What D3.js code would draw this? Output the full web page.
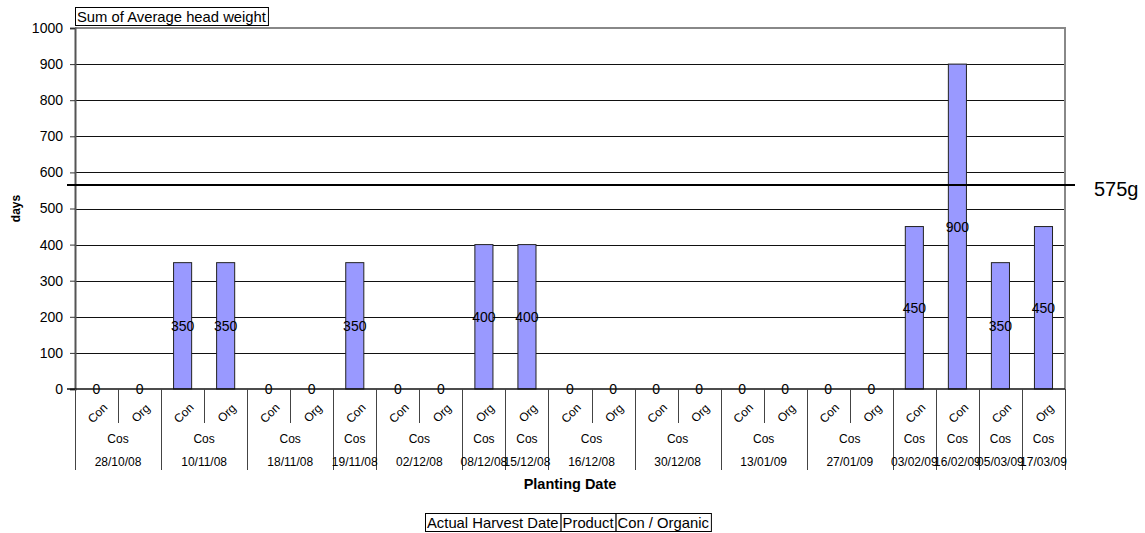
<!DOCTYPE html>
<html>
<head>
<meta charset="utf-8">
<script src="https://cdn.jsdelivr.net/npm/d3@7"></script>
<style>
  body { margin: 0; background: #fff; }
  svg { font-family: "Liberation Sans", Arial, sans-serif; }
</style>
</head>
<body>
<div id="vis"></div>
<script>
const width = 1145;
const height = 533;

// one entry per bar
const harvestDates = ["28/10/08","28/10/08","10/11/08","10/11/08","18/11/08","18/11/08","19/11/08",
  "02/12/08","02/12/08","08/12/08","15/12/08","16/12/08","16/12/08","30/12/08","30/12/08",
  "13/01/09","13/01/09","27/01/09","27/01/09","03/02/09","16/02/09","05/03/09","17/03/09"];
const products = ["Cos","Cos","Cos","Cos","Cos","Cos","Cos","Cos","Cos","Cos","Cos","Cos",
  "Cos","Cos","Cos","Cos","Cos","Cos","Cos","Cos","Cos","Cos","Cos"];
const conOrg = ["Con","Org","Con","Org","Con","Org","Con","Con","Org","Org","Org","Con","Org",
  "Con","Org","Con","Org","Con","Org","Con","Con","Con","Org"];
const headWeight = [0,0,350,350,0,0,350,0,0,400,400,0,0,0,0,0,0,0,0,450,900,350,450];
const yTicks = [0,100,200,300,400,500,600,700,800,900,1000];
const targetLine = 565;
const targetLabel = "575g";
const legendFields = ["Actual Harvest Date","Product","Con / Organic"];

const margin = {left: 75, right: 80, top: 28, bottom: 144};
const plotW = width - margin.left - margin.right;
const plotH = height - margin.top - margin.bottom;

const svg = d3.select("#vis").append("svg")
  .attr("width", width)
  .attr("height", height);

const idx = d3.range(headWeight.length);
const x = d3.scaleBand().domain(idx).range([margin.left, margin.left + plotW]);
const y = d3.scaleLinear().domain([0, 1000]).range([margin.top + plotH, margin.top]);

// gridlines
svg.append("g").selectAll("line").data(yTicks.slice(1, -1)).enter().append("line")
  .attr("x1", margin.left).attr("x2", margin.left + plotW)
  .attr("y1", d => Math.round(y(d)) + 0.5).attr("y2", d => Math.round(y(d)) + 0.5)
  .attr("stroke", "#111").attr("stroke-width", 1);

// plot border top + right (gray)
svg.append("path")
  .attr("d", `M${margin.left},${y(1000)}H${margin.left + plotW}V${y(0)}`)
  .attr("fill", "none").attr("stroke", "#888").attr("stroke-width", 2);

// y axis
const yAxis = d3.axisLeft(y).tickValues(yTicks).tickFormat(d3.format("d")).tickSize(5).tickPadding(7);
const gy = svg.append("g").attr("transform", `translate(${margin.left},0)`).call(yAxis);
gy.attr("font-family", null).attr("font-size", null);
gy.select(".domain").attr("stroke", "#555").attr("stroke-width", 2);
gy.selectAll(".tick line").attr("stroke", "#333");
gy.selectAll("text").style("font-size", "14px").attr("fill", "#000");

svg.append("text")
  .attr("transform", `translate(20,${y(500)}) rotate(-90)`)
  .attr("text-anchor", "middle")
  .style("font-size", "12px").attr("font-weight", "bold")
  .text("days");

// bars
const bw = x.bandwidth() * 0.42;
svg.append("g").selectAll("rect").data(idx.filter(i => headWeight[i] > 0)).enter().append("rect")
  .attr("x", i => x(i) + (x.bandwidth() - bw) / 2)
  .attr("y", i => y(headWeight[i]))
  .attr("width", bw)
  .attr("height", i => y(0) - y(headWeight[i]))
  .attr("fill", "#9999ff")
  .attr("stroke", "#222").attr("stroke-width", 1);

// value labels
svg.append("g").selectAll("text").data(idx).enter().append("text")
  .attr("x", i => x(i) + x.bandwidth() / 2)
  .attr("y", i => y(headWeight[i] / 2) + 5)
  .attr("text-anchor", "middle")
  .style("font-size", "14px")
  .text(i => headWeight[i]);

// x axis line
svg.append("line")
  .attr("x1", margin.left - 8).attr("x2", margin.left + plotW)
  .attr("y1", y(0)).attr("y2", y(0))
  .attr("stroke", "#111").attr("stroke-width", 1.5);

// target line
svg.append("line")
  .attr("x1", margin.left - 8).attr("x2", margin.left + plotW + 10)
  .attr("y1", y(targetLine)).attr("y2", y(targetLine))
  .attr("stroke", "#000").attr("stroke-width", 2);
svg.append("text")
  .attr("x", 1094).attr("y", y(targetLine) + 11)
  .style("font-size", "20px")
  .text(targetLabel);

// hierarchical category axis
const y0 = y(0);
const row1 = y0 + 34, rowEnd = y0 + 81;
const ax = svg.append("g");

// group boundaries by date
const groups = [];
idx.forEach(i => {
  const g = groups[groups.length - 1];
  if (g && g.date === harvestDates[i]) g.end = i;
  else groups.push({date: harvestDates[i], product: products[i], start: i, end: i});
});

// inner dividers (within date)
ax.selectAll("line.inner").data(idx.filter(i => i > 0 && harvestDates[i] === harvestDates[i - 1]))
  .enter().append("line")
  .attr("x1", i => Math.round(x(i)) + 0.5).attr("x2", i => Math.round(x(i)) + 0.5)
  .attr("y1", y0).attr("y2", row1)
  .attr("stroke", "#444");

// group dividers
const bounds = groups.map(g => g.start).concat([idx.length]);
ax.selectAll("line.outer").data(bounds).enter().append("line")
  .attr("x1", b => Math.round(b < idx.length ? x(b) : margin.left + plotW) + 0.5)
  .attr("x2", b => Math.round(b < idx.length ? x(b) : margin.left + plotW) + 0.5)
  .attr("y1", y0).attr("y2", rowEnd)
  .attr("stroke", "#444");

// Con / Org, set along 45 degree paths
const defs = svg.append("defs");
defs.selectAll("path").data(idx).enter().append("path")
  .attr("id", i => "co" + i)
  .attr("d", i => {
    const cx = x(i) + x.bandwidth() / 2 + 4, cy = y0 + 27;
    return `M${cx - 20},${cy + 20}L${cx + 20},${cy - 20}`;
  });
ax.selectAll("text.co").data(idx).enter().append("text")
  .attr("class", "co")
  .style("font-size", "12px")
  .append("textPath")
  .attr("href", i => "#co" + i)
  .attr("startOffset", "50%")
  .attr("text-anchor", "middle")
  .text(i => conOrg[i]);

// product row
ax.selectAll("text.prod").data(groups).enter().append("text")
  .attr("x", g => (x(g.start) + x(g.end) + x.bandwidth()) / 2)
  .attr("y", y0 + 54)
  .attr("text-anchor", "middle")
  .style("font-size", "12px")
  .text(g => g.product);

// date row
ax.selectAll("text.date").data(groups).enter().append("text")
  .attr("x", g => (x(g.start) + x(g.end) + x.bandwidth()) / 2)
  .attr("y", y0 + 77)
  .attr("text-anchor", "middle")
  .style("font-size", "12px")
  .text(g => g.date);

svg.append("text")
  .attr("x", margin.left + plotW / 2).attr("y", 489)
  .attr("text-anchor", "middle")
  .style("font-size", "14.5px").attr("font-weight", "bold")
  .text("Planting Date");

// field buttons
function fieldBox(label, x0, top, fs) {
  const g = svg.append("g");
  const r = g.append("rect");
  const t = g.append("text").attr("x", x0 + 2).attr("y", top + 15)
    .style("font-size", fs + "px").text(label);
  const w = t.node().getComputedTextLength() + 4;
  r.attr("x", x0 + 0.5).attr("y", top + 0.5)
    .attr("width", w).attr("height", 18)
    .attr("fill", "#fff").attr("stroke", "#000");
  return w;
}
let lx = 425;
legendFields.forEach(f => { lx += fieldBox(f, lx, 513, 14.8); });

fieldBox("Sum of Average head weight", 75, 7, 14.8);
</script>
</body>
</html>
